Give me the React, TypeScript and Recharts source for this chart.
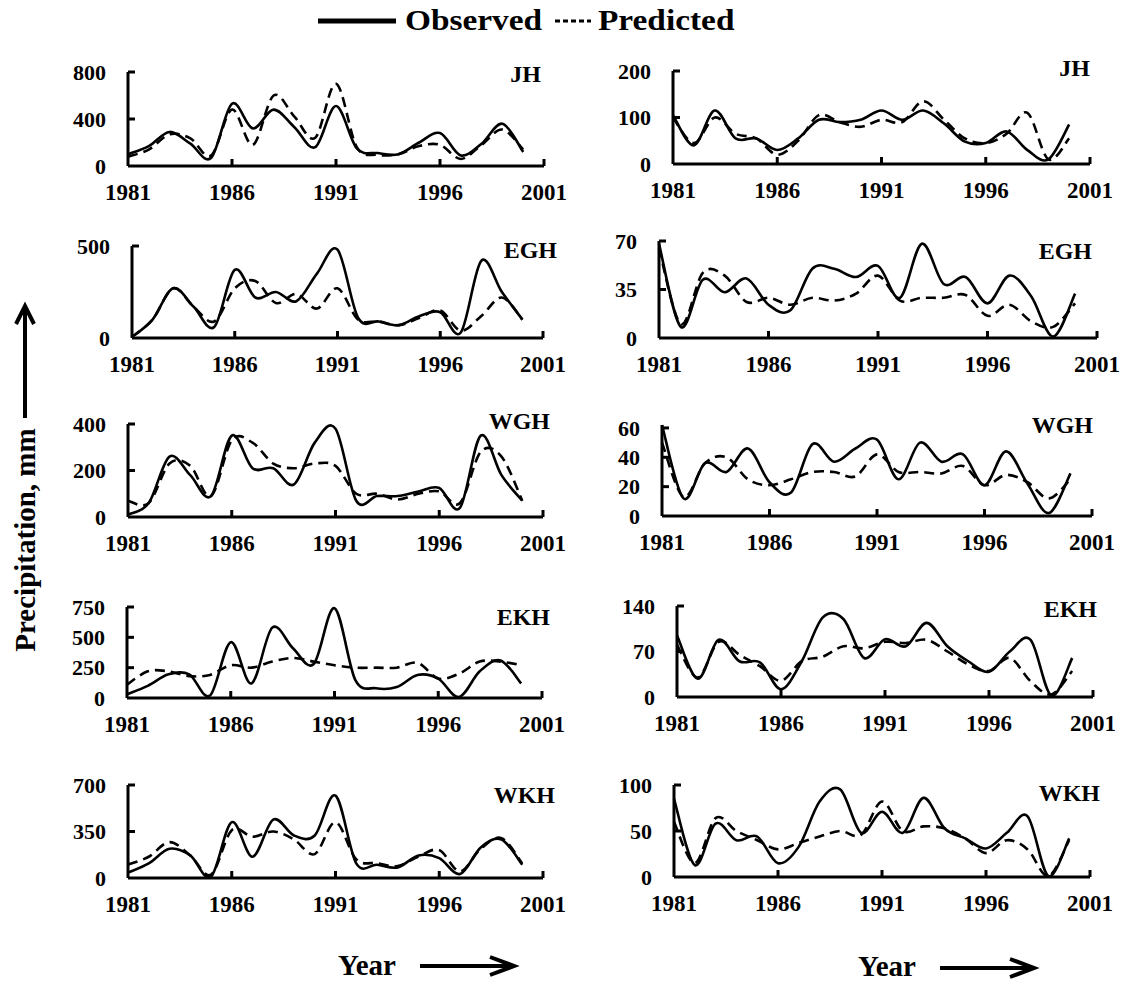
import * as React from 'react';
import { LineChart, Line, XAxis, YAxis } from 'recharts';

// 年 (x軸)
const years = [
  1981, 1982, 1983, 1984, 1985, 1986, 1987, 1988, 1989, 1990,
  1991, 1992, 1993, 1994, 1995, 1996, 1997, 1998, 1999, 2000,
];
const xTicks = [1981, 1986, 1991, 1996, 2001];

// left column
const jhObsA = [100, 170, 290, 190, 70, 530, 320, 480, 330, 160, 510, 150, 110, 100, 200, 280, 90, 190, 360, 120];
const jhPredA = [80, 140, 270, 235, 90, 480, 180, 600, 420, 240, 700, 160, 95, 100, 170, 180, 60, 180, 310, 140];
const eghObsA = [5, 100, 270, 170, 60, 370, 220, 250, 200, 350, 480, 110, 90, 70, 120, 140, 30, 420, 250, 100];
const eghPredA = [5, 100, 270, 170, 90, 270, 310, 190, 240, 160, 270, 100, 90, 70, 110, 150, 40, 120, 220, 100];
const wghObsA = [10, 60, 260, 180, 90, 350, 210, 210, 140, 320, 380, 70, 90, 90, 110, 125, 40, 350, 180, 70];
const wghPredA = [70, 60, 230, 220, 90, 330, 320, 230, 210, 230, 220, 100, 100, 75, 100, 110, 60, 280, 260, 70];
const ekhObsA = [30, 100, 195, 195, 20, 460, 120, 580, 410, 280, 740, 150, 80, 90, 190, 160, 8, 220, 310, 120];
const ekhPredA = [110, 220, 220, 180, 190, 270, 250, 300, 330, 300, 270, 250, 250, 250, 290, 160, 200, 300, 300, 270];
const wkhObsA = [40, 110, 220, 170, 10, 420, 160, 440, 320, 320, 620, 110, 100, 80, 170, 150, 30, 230, 290, 100];
const wkhPredA = [100, 160, 270, 170, 25, 360, 310, 350, 290, 180, 420, 140, 112, 90, 162, 210, 50, 220, 300, 110];

// right column
const jhObsB = [105, 40, 115, 55, 55, 30, 55, 95, 90, 95, 115, 95, 115, 87, 48, 45, 70, 30, 10, 85];
const jhPredB = [100, 45, 100, 65, 55, 20, 50, 105, 90, 80, 95, 90, 135, 95, 55, 45, 65, 110, 10, 55];
const eghObsB = [68, 8, 42, 33, 43, 24, 20, 50, 50, 44, 52, 29, 68, 39, 44, 25, 45, 30, 1, 32];
const eghPredB = [65, 10, 47, 45, 26, 29, 24, 29, 27, 32, 45, 27, 29, 29, 31, 16, 24, 12, 8, 25];
const wghObsB = [62, 12, 36, 30, 46, 23, 16, 49, 37, 46, 52, 25, 50, 37, 42, 21, 44, 22, 2, 29];
const wghPredB = [50, 13, 36, 40, 25, 21, 25, 30, 30, 27, 42, 30, 30, 29, 34, 21, 28, 23, 12, 25];
const ekhObsB = [95, 28, 88, 55, 53, 12, 55, 122, 120, 60, 89, 78, 114, 78, 55, 39, 70, 88, 2, 60];
const ekhPredB = [80, 30, 85, 65, 47, 25, 55, 62, 78, 75, 85, 83, 88, 70, 50, 40, 60, 24, 4, 40];
const wkhObsB = [85, 13, 58, 40, 44, 15, 33, 82, 95, 48, 71, 48, 86, 53, 42, 31, 48, 66, 1, 42];
const wkhPredB = [60, 15, 64, 50, 40, 30, 37, 44, 50, 46, 82, 50, 55, 53, 42, 26, 40, 30, 1, 40];

// y tick labels per panel
const jhTicksA = [0, 400, 800];
const jhTicksB = [0, 100, 200];
const eghTicksA = [0, 500];
const eghTicksB = [0, 35, 70];
const wghTicksA = [0, 200, 400];
const wghTicksB = [0, 20, 40, 60];
const ekhTicksA = [0, 250, 500, 750];
const ekhTicksB = [0, 70, 140];
const wkhTicksA = [0, 350, 700];
const wkhTicksB = [0, 50, 100];

const FONT = '"Liberation Serif", "Times New Roman", serif';

// Excel風のなめらかな線 (Catmull-Rom)
function smoothCurve(context: any) {
  let pts: number[][] = [];
  return {
    areaStart() {},
    areaEnd() {},
    lineStart() {
      pts = [];
    },
    lineEnd() {
      const n = pts.length;
      if (!n) return;
      context.moveTo(pts[0][0], pts[0][1]);
      for (let i = 0; i < n - 1; i++) {
        const p0 = pts[i - 1] || pts[i];
        const p1 = pts[i];
        const p2 = pts[i + 1];
        const p3 = pts[i + 2] || p2;
        context.bezierCurveTo(
          p1[0] + (p2[0] - p0[0]) / 6,
          p1[1] + (p2[1] - p0[1]) / 6,
          p2[0] - (p3[0] - p1[0]) / 6,
          p2[1] - (p3[1] - p1[1]) / 6,
          p2[0],
          p2[1],
        );
      }
    },
    point(x: number, y: number) {
      pts.push([+x, +y]);
    },
  };
}

interface Box { x: number; y: number; w: number; h: number }

interface PanelProps {
  box: Box;
  title: string;
  titleRight: number;
  titleCy: number;
  obs: number[];
  pred: number[];
  yTicks: number[];
}

const PAD_L = 80;
const PAD_T = 14;
const PAD_R = 50;
const PAD_B = 48;

function XTick(props: any) {
  const { x, y, payload } = props;
  return (
    <g>
      {payload.value !== 1981 && (
        <line x1={x} y1={y} x2={x} y2={y - 7} stroke="#000" strokeWidth={3} />
      )}
      <text x={x} y={y + 34} textAnchor="middle" fontFamily={FONT} fontWeight="bold" fontSize={23} fill="#000">
        {payload.value}
      </text>
    </g>
  );
}

function YTick(props: any) {
  const { x, y, payload } = props;
  return (
    <g>
      {payload.value !== 0 && (
        <line x1={x} y1={y} x2={x + 7} y2={y} stroke="#000" strokeWidth={3} />
      )}
      <text x={x - 22} y={y} dy="0.35em" textAnchor="end" fontFamily={FONT} fontWeight="bold" fontSize={22} fill="#000">
        {payload.value}
      </text>
    </g>
  );
}

function Panel({ box, title, titleRight, titleCy, obs, pred, yTicks }: PanelProps) {
  const data = years.map((year, i) => ({ year, observed: obs[i], predicted: pred[i] }));
  const yMax = yTicks[yTicks.length - 1];
  return (
    <>
      <div style={{ position: 'absolute', left: box.x - PAD_L, top: box.y - PAD_T }}>
        <LineChart
          width={box.w + PAD_L + PAD_R}
          height={box.h + PAD_T + PAD_B}
          data={data}
          margin={{ top: PAD_T, right: PAD_R, bottom: 0, left: 0 }}
          style={{ overflow: 'visible' }}
        >
          <XAxis
            dataKey="year"
            type="number"
            domain={[1981, 2001]}
            ticks={xTicks}
            interval={0}
            height={PAD_B}
            tickSize={0}
            tickMargin={0}
            tickLine={false}
            axisLine={{ stroke: '#000', strokeWidth: 3 }}
            tick={(p: any) => <XTick {...p} />}
          />
          <YAxis
            type="number"
            domain={[0, yMax]}
            ticks={yTicks}
            interval={0}
            width={PAD_L}
            tickSize={0}
            tickMargin={0}
            tickLine={false}
            axisLine={{ stroke: '#000', strokeWidth: 3 }}
            tick={(p: any) => <YTick {...p} />}
          />
          <Line
            dataKey="observed"
            type={smoothCurve as any}
            stroke="#000"
            strokeWidth={2.6}
            dot={false}
            isAnimationActive={false}
          />
          <Line
            dataKey="predicted"
            type={smoothCurve as any}
            stroke="#000"
            strokeWidth={2.6}
            strokeDasharray="10 6"
            dot={false}
            isAnimationActive={false}
          />
        </LineChart>
      </div>
      <div
        style={{
          position: 'absolute',
          right: 1135 - titleRight,
          top: titleCy - 14,
          fontFamily: FONT,
          fontWeight: 'bold',
          fontSize: 24,
          lineHeight: '28px',
        }}
      >
        {title}
      </div>
    </>
  );
}

const panels: PanelProps[] = [
  { box: { x: 128, y: 72, w: 416, h: 94 }, title: 'JH', titleRight: 541, titleCy: 74, obs: jhObsA, pred: jhPredA, yTicks: jhTicksA },
  { box: { x: 673, y: 71, w: 417, h: 93 }, title: 'JH', titleRight: 1090, titleCy: 68, obs: jhObsB, pred: jhPredB, yTicks: jhTicksB },
  { box: { x: 132, y: 246, w: 411, h: 92 }, title: 'EGH', titleRight: 557, titleCy: 250, obs: eghObsA, pred: eghPredA, yTicks: eghTicksA },
  { box: { x: 659, y: 241, w: 438, h: 97 }, title: 'EGH', titleRight: 1092, titleCy: 251, obs: eghObsB, pred: eghPredB, yTicks: eghTicksB },
  { box: { x: 128, y: 424, w: 415, h: 93 }, title: 'WGH', titleRight: 550, titleCy: 421, obs: wghObsA, pred: wghPredA, yTicks: wghTicksA },
  { box: { x: 662, y: 425, w: 430, h: 91 }, title: 'WGH', titleRight: 1093, titleCy: 425, obs: wghObsB, pred: wghPredB, yTicks: wghTicksB },
  { box: { x: 127, y: 607, w: 415, h: 91 }, title: 'EKH', titleRight: 550, titleCy: 617, obs: ekhObsA, pred: ekhPredA, yTicks: ekhTicksA },
  { box: { x: 677, y: 606, w: 416, h: 91 }, title: 'EKH', titleRight: 1097, titleCy: 609, obs: ekhObsB, pred: ekhPredB, yTicks: ekhTicksB },
  { box: { x: 128, y: 785, w: 415, h: 93 }, title: 'WKH', titleRight: 555, titleCy: 795, obs: wkhObsA, pred: wkhPredA, yTicks: wkhTicksA },
  { box: { x: 674, y: 785, w: 416, h: 92 }, title: 'WKH', titleRight: 1100, titleCy: 793, obs: wkhObsB, pred: wkhPredB, yTicks: wkhTicksB },
];

const textStyle: React.CSSProperties = {
  position: 'absolute',
  fontFamily: FONT,
  fontWeight: 'bold',
  fontSize: 29,
  lineHeight: '30px',
  whiteSpace: 'nowrap',
  color: '#000',
};

function YearArrow({ left, top }: { left: number; top: number }) {
  return (
    <svg width={100} height={24} style={{ position: 'absolute', left, top }}>
      <line x1={0} y1={12} x2={92} y2={12} stroke="#000" strokeWidth={4} />
      <polyline points="70,3 94,12 70,21" fill="none" stroke="#000" strokeWidth={4} />
    </svg>
  );
}

export default function App(): React.JSX.Element {
  return (
    <div style={{ position: 'absolute', left: 0, top: 0, width: 1135, height: 981, background: '#fff' }}>
      {/* legend */}
      <svg width={80} height={12} style={{ position: 'absolute', left: 318, top: 15 }}>
        <line x1={0} y1={6} x2={78} y2={6} stroke="#000" strokeWidth={5} />
      </svg>
      <div style={{ ...textStyle, left: 405, top: 5, transform: 'scaleX(1.15)', transformOrigin: 'left' }}>Observed</div>
      <svg width={40} height={12} style={{ position: 'absolute', left: 555, top: 15 }}>
        <line x1={0} y1={6} x2={36} y2={6} stroke="#000" strokeWidth={3} strokeDasharray="5 3" />
      </svg>
      <div style={{ ...textStyle, left: 598, top: 5, transform: 'scaleX(1.15)', transformOrigin: 'left' }}>Predicted</div>

      {panels.map((p, i) => (
        <Panel key={i} {...p} />
      ))}

      {/* y label */}
      <svg width={30} height={120} style={{ position: 'absolute', left: 10, top: 300 }}>
        <line x1={15} y1={118} x2={15} y2={8} stroke="#000" strokeWidth={4} />
        <polyline points="6,24 15,6 24,24" fill="none" stroke="#000" strokeWidth={4} />
      </svg>
      <div
        style={{
          ...textStyle,
          left: 25,
          top: 540,
          transform: 'translate(-50%, -50%) rotate(-90deg)',
        }}
      >
        Precipitation, mm
      </div>

      {/* x labels */}
      <div style={{ ...textStyle, left: 338, top: 953, lineHeight: '24px' }}>Year</div>
      <YearArrow left={420} top={954} />
      <div style={{ ...textStyle, left: 858, top: 954, lineHeight: '24px' }}>Year</div>
      <YearArrow left={940} top={956} />
    </div>
  );
}
